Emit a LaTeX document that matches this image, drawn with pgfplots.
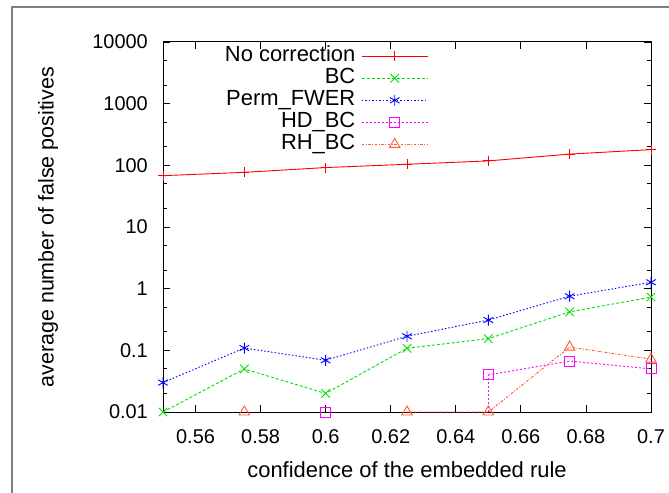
\documentclass[border=0pt]{standalone}
\usepackage{fontspec}
\setmainfont{Liberation Sans}
\usepackage{pgfplots}
\pgfplotsset{compat=1.18}
\definecolor{rhcol}{RGB}{255,90,50}
\definecolor{bccol}{RGB}{0,225,0}
\definecolor{hdcol}{RGB}{255,0,255}
\begin{document}
\begin{tikzpicture}
\path[use as bounding box] (0bp,0bp) rectangle (669bp,493bp);
\draw[gray, line width=1.6bp] (12bp,0bp) -- (12bp,486bp) -- (669bp,486bp);
\begin{axis}[
  at={(163bp,81bp)}, anchor=south west,
  scale only axis, width=488bp, height=370bp,
  ymode=log, xmin=0.55, xmax=0.7, ymin=0.01, ymax=10000,
  axis line style={line width=1bp},
  tick style={black, line width=0.8bp},
  tick align=inside,
  major tick length=7bp, minor tick length=4bp,
  xtick={0.56,0.58,0.6,0.62,0.64,0.66,0.68,0.7},
  xticklabels={0.56,0.58,0.6,0.62,0.64,0.66,0.68,0.7},
  ytick={0.01,0.1,1,10,100,1000,10000},
  yticklabels={0.01,0.1,1,10,100,1000,10000},
  minor ytick={0.02,0.05,0.2,0.5,2,5,20,50,200,500,2000,5000},
  /pgf/number format/assume math mode=true,
  yticklabel style={font=\fontsize{20}{24}\selectfont, inner sep=0pt, xshift=-15bp},
  xticklabel style={font=\fontsize{20}{24}\selectfont, inner sep=0pt, yshift=-17bp},
  xlabel={confidence of the embedded rule},
  ylabel={average number of false positives},
  every axis x label/.style={at={(axis description cs:0.5,-0.157)}, anchor=center, font=\fontsize{22}{26}\selectfont},
  every axis y label/.style={at={(axis description cs:-0.2357,0.5)}, anchor=center, rotate=90, font=\fontsize{21.5}{26}\selectfont},
  unbounded coords=jump,
  legend plot pos=right,
  legend cell align=right,
  legend style={draw=none, fill=none, at={(axis description cs:0.55,0.997)}, anchor=north east,
    font=\fontsize{22}{26}\selectfont, row sep=0pt, column sep=4bp,
    nodes={inner sep=2bp, text height=14bp, text depth=4bp}},
  legend image code/.code={\draw[mark repeat=2,mark phase=2] plot coordinates {(0bp,0bp)(33bp,0bp)(66bp,0bp)};},
]
\addplot[red, line width=0.9bp, mark=+, mark size=5bp, mark options={solid}]
  coordinates {(0.55,68) (0.575,77) (0.6,92) (0.625,104) (0.65,118) (0.675,152) (0.7,180)};
\addlegendentry{No correction}
\addplot[bccol, line width=0.9bp, dash pattern=on 3bp off 2bp, mark=x, mark size=6bp, mark options={solid}]
  coordinates {(0.55,0.01) (0.575,0.05) (0.6,0.02) (0.625,0.108) (0.65,0.155) (0.675,0.42) (0.7,0.73)};
\addlegendentry{BC}
\addplot[blue, line width=0.9bp, dash pattern=on 1.5bp off 2bp, mark=asterisk, mark size=5.5bp, mark options={solid}]
  coordinates {(0.55,0.03) (0.575,0.109) (0.6,0.069) (0.625,0.169) (0.65,0.31) (0.675,0.754) (0.7,1.27)};
\addlegendentry{Perm\_FWER}
\addplot[hdcol, line width=0.9bp, dash pattern=on 2bp off 2bp, mark=square, mark size=5bp, mark options={solid}]
  coordinates {(0.6,0.01) (0.625,nan) (0.65,0.04) (0.675,0.067) (0.7,0.05)};
\addlegendentry{HD\_BC}
\addplot[rhcol, line width=0.9bp, dash pattern=on 2.5bp off 1.5bp on 1bp off 1.5bp, mark=triangle, mark size=6bp, mark options={solid}]
  coordinates {(0.575,0.01) (0.6,nan) (0.625,0.01) (0.65,0.01) (0.675,0.113) (0.7,0.072)};
\addlegendentry{RH\_BC}
\addplot[hdcol, line width=0.9bp, dash pattern=on 2bp off 2bp, forget plot]
  coordinates {(0.65,0.01) (0.65,0.04)};
\end{axis}
\end{tikzpicture}
\end{document}
